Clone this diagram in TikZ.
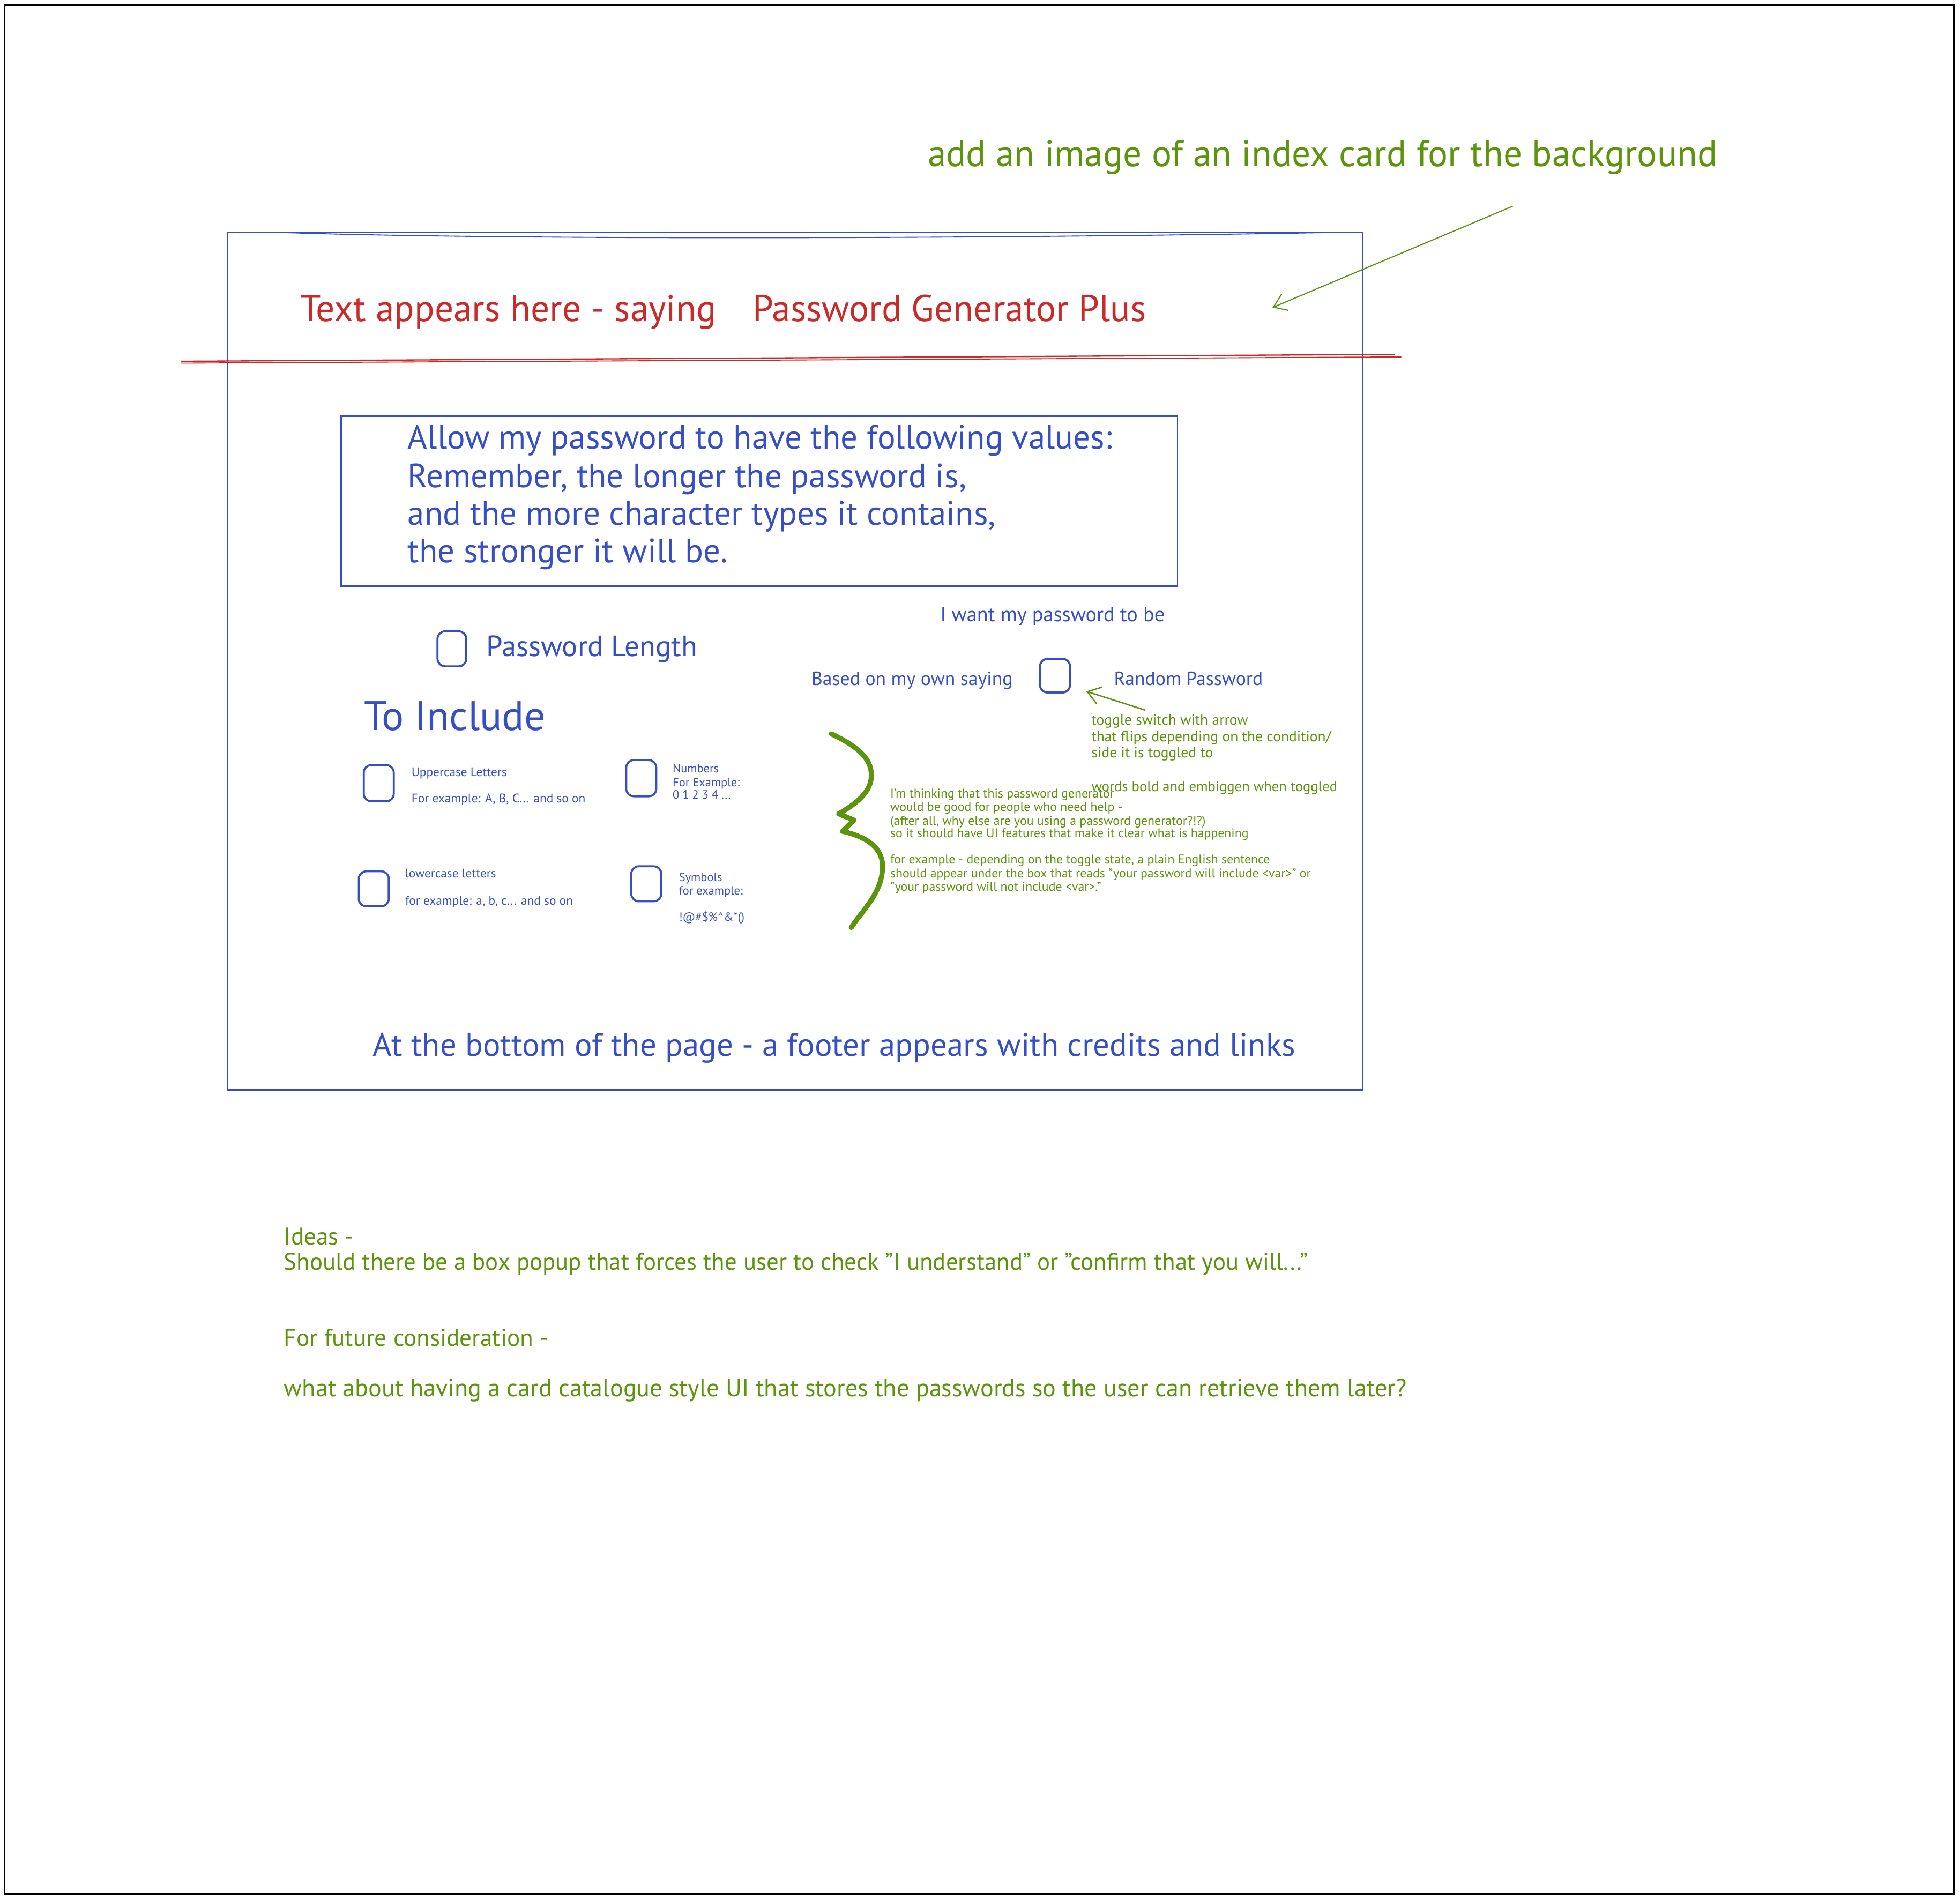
\documentclass[tikz,border=0pt]{standalone}
\usepackage{fontspec}
\setmainfont{PT Sans}
\usetikzlibrary{arrows.meta}
\definecolor{ublue}{HTML}{364FC7}
\definecolor{ured}{HTML}{C92A2A}
\definecolor{ugreen}{HTML}{5C940D}
\newcommand\fsz[1]{\fontsize{#1}{#1}\selectfont}
\begin{document}
\begin{tikzpicture}[x=1pt,y=-1pt,
  bluet/.style={inner sep=0pt, anchor=base west, text=ublue},
  greent/.style={inner sep=0pt, anchor=base west, text=ugreen},
  redt/.style={inner sep=0pt, anchor=base west, text=ured},
  chk/.style={draw=ublue, line width=1.6pt, rounded corners=6pt, inner sep=0pt},
  frame/.style={draw=ublue, line width=1.2pt},
  garrow/.style={draw=ugreen, line width=1.1pt, line cap=round, -{Straight Barb[length=10pt,width=14pt]}},
  brace/.style={draw=ugreen, line width=4pt, line cap=round, line join=round}]
\fill[white] (0,0) rectangle (1568,1519);
\useasboundingbox (0,0) rectangle (1568,1519);
% outer frame
\draw[black, line width=1pt] (4,4) rectangle (1563,1515);
% main card
\draw[frame] (182,186) rectangle (1090,872);
\draw[ublue, line width=0.8pt] (227,186) .. controls (400,192) and (800,191) .. (1062,186);
% red header line
\draw[ured, line width=1pt] (145,289) -- (1116,283.5);
\draw[ured, line width=0.8pt] (145,290.5) -- (1121,285.5);
% top note
\node[greent, font={\fsz{29.7}}] (note) at (742,133) {add an image of an index card for the background};
\coordinate (noteA) at (1210,165);
\coordinate (noteB) at (1018,246);
\draw[garrow, line width=0.9pt] (noteA) -- (noteB);
% title
\node[redt, font={\fsz{29.8}}] (title) at (240,257) {Text appears here - saying\hspace*{21pt} Password Generator Plus};
% info box
\draw[frame] (273,333) rectangle (942,469);
\node[bluet, font={\fsz{27}}] (i1) at (326,359) {Allow my password to have the following values:};
\node[bluet, font={\fsz{27}}] (i2) at (326,390) {Remember, the longer the password is,};
\node[bluet, font={\fsz{27}}] (i3) at (326,420) {and the more character types it contains,};
\node[bluet, font={\fsz{27}}] (i4) at (326,450) {the stronger it will be.};
% password length
\node[chk, minimum width=23pt, minimum height=28pt] (cbLen) at (361.5,519) {};
\node[bluet, font={\fsz{23.4}}] (len) at (389,525) {Password Length};
% toggle
\node[bluet, font={\fsz{16.4}}] (want) at (752,497) {I want my password to be};
\node[bluet, font={\fsz{15.3}}] (own) at (649,548) {Based on my own saying};
\node[chk, minimum width=24pt, minimum height=27pt] (cbTog) at (844,540.5) {};
\node[bluet, font={\fsz{15.3}}] (rand) at (891,548) {Random Password};
\coordinate (togA) at (916,568);
\coordinate (togB) at (869,553);
\draw[garrow] (togA) -- (togB);
\node[greent, font={\fsz{11.8}}] (t1) at (873,580) {toggle switch with arrow};
\node[greent, font={\fsz{11.8}}] (t2) at (873,593) {that flips depending on the condition/};
\node[greent, font={\fsz{11.8}}] (t3) at (873,606) {side it is toggled to};
\node[greent, font={\fsz{11.4}}] (t4) at (873,633) {words bold and embiggen when toggled};
% to include
\node[bluet, font={\fsz{33}}] (incl) at (291,584) {To Include};
\node[chk, minimum width=24pt, minimum height=29pt] (cbUp) at (303,626.5) {};
\node[bluet, font={\fsz{10}}] (up1) at (329,621) {Uppercase Letters};
\node[bluet, font={\fsz{10}}] (up2) at (329,642) {For example: A, B, C... and so on};
\node[chk, minimum width=24pt, minimum height=29pt] (cbNum) at (513,622.5) {};
\node[bluet, font={\fsz{9.6}}] (n1) at (538,618) {Numbers};
\node[bluet, font={\fsz{9.6}}] (n2) at (538,629) {For Example:};
\node[bluet, font={\fsz{9.6}}] (n3) at (538,639) {0 1 2 3 4 ...};
\node[chk, minimum width=24pt, minimum height=28pt] (cbLow) at (299,711) {};
\node[bluet, font={\fsz{10}}] (lo1) at (324,702) {lowercase letters};
\node[bluet, font={\fsz{10}}] (lo2) at (324,724) {for example: a, b, c... and so on};
\node[chk, minimum width=24pt, minimum height=28pt] (cbSym) at (517,707) {};
\node[bluet, font={\fsz{9.6}}] (s1) at (543,705) {Symbols};
\node[bluet, font={\fsz{9.6}}] (s2) at (543,716) {for example:};
\node[bluet, font={\fsz{9.6}}] (s3) at (543,737) {!@\#\$\%\textasciicircum\&*()};
% brace
\draw[brace] (665,587) .. controls (688,598) and (698,608) .. (697,622) .. controls (696,635) and (683,644) .. (671,651) -- (683,656) -- (674,665) .. controls (696,670) and (707,680) .. (706,695) .. controls (705,715) and (690,728) .. (681,742);
% green paragraph
\node[greent, font={\fsz{10.2}}] (g1) at (712,638) {I'm thinking that this password generator};
\node[greent, font={\fsz{10.2}}] (g2) at (712,649) {would be good for people who need help -};
\node[greent, font={\fsz{10.2}}] (g3) at (712,660) {(after all, why else are you using a password generator?!?)};
\node[greent, font={\fsz{10.2}}] (g4) at (712,670) {so it should have UI features that make it clear what is happening};
\node[greent, font={\fsz{10.2}}] (g5) at (712,691) {for example - depending on the toggle state, a plain English sentence};
\node[greent, font={\fsz{10.2}}] (g6) at (712,702) {should appear under the box that reads "your password will include <var>" or};
\node[greent, font={\fsz{10.2}}] (g7) at (712,713) {"your password will not include <var>."};
% footer
\node[bluet, font={\fsz{26.1}}] (foot) at (298,845) {At the bottom of the page - a footer appears with credits and links};
% ideas
\node[greent, font={\fsz{19.4}}] (id1) at (227,996) {Ideas -};
\node[greent, font={\fsz{19.25}}] (id2) at (227,1016) {Should there be a box popup that forces the user to check "I understand" or "confirm that you will..."};
\node[greent, font={\fsz{19.4}}] (fu1) at (227,1077) {For future consideration -};
\node[greent, font={\fsz{19.8}}] (fu2) at (227,1117) {what about having a card catalogue style UI that stores the passwords so the user can retrieve them later?};
\end{tikzpicture}
\end{document}
